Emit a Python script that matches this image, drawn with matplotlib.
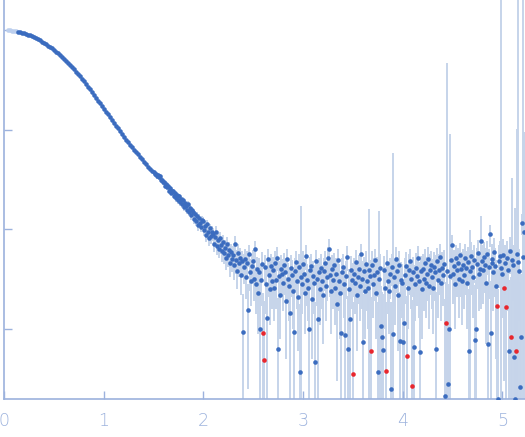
import numpy as np
import matplotlib
matplotlib.use("Agg")
import matplotlib.pyplot as plt

# scattering curve, q in 1/nm, intensity arbitrary units (log axis)

# low q, smooth part of the curve
q_low = [0.04, 0.06, 0.08, 0.10, 0.12, 0.14, 0.16, 0.18, 0.20,
         0.22, 0.24, 0.26, 0.28, 0.30, 0.32, 0.34, 0.36, 0.38, 0.40,
         0.42, 0.44, 0.46, 0.48, 0.50, 0.52, 0.54, 0.56, 0.58, 0.60,
         0.62, 0.64, 0.66, 0.68, 0.70, 0.72, 0.74, 0.76, 0.78, 0.80,
         0.82, 0.84, 0.86, 0.88, 0.90, 0.92, 0.94, 0.96, 0.98, 1.00,
         1.02, 1.04, 1.06, 1.08, 1.10, 1.12, 1.14, 1.16, 1.18, 1.20,
         1.22, 1.24, 1.26, 1.28, 1.30, 1.32, 1.34, 1.36, 1.38, 1.40,
         1.42, 1.44, 1.46, 1.48]
i_low = [997, 993, 988, 982, 974, 965, 953, 942, 929,
         914, 899, 883, 865, 847, 828, 807, 787, 765, 743,
         721, 698, 676, 653, 629, 606, 582, 560, 536, 513,
         491, 468, 446, 425, 404, 383, 362, 343, 324, 305,
         288, 270, 254, 238, 223, 209, 196, 184, 172, 161,
         151, 142, 133, 125, 117, 110, 103, 96.4, 90.4, 84.7,
         79.4, 74.6, 70.1, 66.5, 63.1, 59.3, 56.5, 52.8, 50.4, 47.1,
         45.2, 42.3, 40.6, 38.1]
q_excluded_max = 0.12  # first points drawn pale

# high q, noisy part (negative values drawn red, as |I|)
q_high = [1.50, 1.51, 1.52, 1.53, 1.54, 1.55, 1.56, 1.57, 1.58, 1.59,
          1.60, 1.61, 1.62, 1.63, 1.64, 1.65, 1.66, 1.67, 1.68, 1.69,
          1.70, 1.71, 1.72, 1.73, 1.74, 1.75, 1.76, 1.77, 1.78, 1.79,
          1.80, 1.81, 1.82, 1.83, 1.84, 1.85, 1.86, 1.87, 1.88, 1.89,
          1.90, 1.91, 1.92, 1.93, 1.94, 1.95, 1.96, 1.97, 1.98, 1.99,
          2.00, 2.01, 2.02, 2.03, 2.04, 2.05, 2.06, 2.07, 2.08, 2.09,
          2.10, 2.11, 2.12, 2.13, 2.14, 2.15, 2.16, 2.17, 2.18, 2.19,
          2.20, 2.21, 2.22, 2.23, 2.24, 2.25, 2.26, 2.27, 2.28, 2.29,
          2.30, 2.31, 2.32, 2.33, 2.34, 2.35, 2.36, 2.37, 2.38, 2.39,
          2.40, 2.41, 2.42, 2.43, 2.44, 2.45, 2.46, 2.47, 2.48, 2.49,
          2.50, 2.51, 2.52, 2.53, 2.54, 2.55, 2.56, 2.57, 2.58, 2.59,
          2.60, 2.61, 2.62, 2.63, 2.64, 2.65, 2.66, 2.67, 2.68, 2.69,
          2.70, 2.71, 2.72, 2.73, 2.74, 2.75, 2.76, 2.77, 2.78, 2.79,
          2.80, 2.81, 2.82, 2.83, 2.84, 2.85, 2.86, 2.87, 2.88, 2.89,
          2.90, 2.91, 2.92, 2.93, 2.94, 2.95, 2.96, 2.97, 2.98, 2.99,
          3.00, 3.01, 3.02, 3.03, 3.04, 3.05, 3.06, 3.07, 3.08, 3.09,
          3.10, 3.11, 3.12, 3.13, 3.14, 3.15, 3.16, 3.17, 3.18, 3.19,
          3.20, 3.21, 3.22, 3.23, 3.24, 3.25, 3.26, 3.27, 3.28, 3.29,
          3.30, 3.31, 3.32, 3.33, 3.34, 3.35, 3.36, 3.37, 3.38, 3.39,
          3.40, 3.41, 3.42, 3.43, 3.44, 3.45, 3.46, 3.47, 3.48, 3.49,
          3.50, 3.51, 3.52, 3.53, 3.54, 3.55, 3.56, 3.57, 3.58, 3.59,
          3.60, 3.61, 3.62, 3.63, 3.64, 3.65, 3.66, 3.67, 3.68, 3.69,
          3.70, 3.71, 3.72, 3.73, 3.74, 3.75, 3.76, 3.77, 3.78, 3.79,
          3.80, 3.81, 3.82, 3.83, 3.84, 3.85, 3.86, 3.87, 3.88, 3.89,
          3.90, 3.91, 3.92, 3.93, 3.94, 3.95, 3.96, 3.97, 3.98, 3.99,
          4.00, 4.01, 4.02, 4.03, 4.04, 4.05, 4.06, 4.07, 4.08, 4.09,
          4.10, 4.11, 4.12, 4.13, 4.14, 4.15, 4.16, 4.17, 4.18, 4.19,
          4.20, 4.21, 4.22, 4.23, 4.24, 4.25, 4.26, 4.27, 4.28, 4.29,
          4.30, 4.31, 4.32, 4.33, 4.34, 4.35, 4.36, 4.37, 4.38, 4.39,
          4.40, 4.41, 4.42, 4.43, 4.44, 4.45, 4.46, 4.47, 4.48, 4.49,
          4.50, 4.51, 4.52, 4.53, 4.54, 4.55, 4.56, 4.57, 4.58, 4.59,
          4.60, 4.61, 4.62, 4.63, 4.64, 4.65, 4.66, 4.67, 4.68, 4.69,
          4.70, 4.71, 4.72, 4.73, 4.74, 4.75, 4.76, 4.77, 4.78, 4.79,
          4.80, 4.81, 4.82, 4.83, 4.84, 4.85, 4.86, 4.87, 4.88, 4.89,
          4.90, 4.91, 4.92, 4.93, 4.94, 4.95, 4.96, 4.97, 4.98, 4.99,
          5.00, 5.01, 5.02, 5.03, 5.04, 5.05, 5.06, 5.07, 5.08, 5.09,
          5.10, 5.11, 5.12, 5.13, 5.14, 5.15, 5.16, 5.17, 5.18, 5.19,
          5.20, 5.21, 5.22]
i_high = [37.2, 35.5, 36.3, 33.9, 34.7, 33.1, 33.9, 30.9, 31.6, 29.5,
          29.5, 27.5, 28.8, 26.3, 26.9, 27.5, 24.5, 25.7, 23.4, 24.5,
          24.0, 21.4, 22.9, 20.4, 21.9, 19.5, 21.4, 18.6, 20.0, 17.8,
          19.5, 16.6, 18.2, 17.0, 15.5, 17.8, 14.8, 16.2, 13.8, 15.5,
          14.8, 12.6, 14.1, 12.0, 13.5, 11.0, 12.9, 11.7, 10.5, 12.3,
          12.0, 9.8, 10.7, 8.7, 11.2, 9.3, 8.1, 10.2, 8.5, 9.5,
          8.9, 7.2, 8.3, 9.5, 6.8, 7.8, 6.3, 8.1, 6.9, 6.0,
          7.4, 5.8, 6.5, 5.1, 7.1, 5.5, 6.2, 4.6, 5.9, 5.0,
          5.5, 4.4, 7.2, 4.9, 3.8, 5.8, 4.6, 5.1, 3.5, 4.8,
          0.93, 4.2, 5.0, 3.3, 4.6, 1.55, 5.6, 3.7, 3.0, 4.3,
          4.8, 3.2, 6.3, 2.8, 4.0, 2.3, 3.7, 1.0, 3.1, 4.5,
          -0.91, -0.49, 4.2, 2.8, 1.3, 5.0, 3.5, 2.5, 4.3, 3.0,
          3.9, 2.6, 4.6, 3.1, 5.2, 0.63, 3.4, 2.2, 4.0, 3.6,
          2.9, 4.4, 3.7, 1.9, 5.0, 3.2, 2.7, 1.45, 4.1, 3.5,
          2.4, 0.93, 3.8, 4.7, 3.0, 2.1, 4.2, 0.37, 3.3, 2.8,
          4.5, 3.6, 2.3, 5.4, 3.1, 2.6, 1.0, 3.9, 4.3, 2.0,
          3.4, 2.9, 0.47, 4.8, 3.2, 1.26, 3.7, 2.5, 4.1, 3.0,
          2.2, 3.8, 4.6, 2.7, 3.3, 5.1, 6.4, 3.5, 2.4, 4.0,
          3.1, 4.4, 2.6, 3.6, 1.8, 4.9, 3.0, 2.3, 0.91, 3.7,
          4.2, 2.8, 0.87, 3.4, 5.3, 0.63, 2.5, 1.26, 3.9, 3.1,
          -0.35, 3.6, 2.9, 4.7, 2.2, 3.3, 4.0, 2.7, 5.6, 3.2,
          0.74, 3.8, 2.4, 4.5, 3.0, 2.6, 3.9, 3.4, -0.60, 4.4,
          2.8, 3.5, 4.9, 2.3, 3.7, 0.37, 3.2, 4.1, 1.07, 0.83,
          0.62, 3.9, 2.6, -0.38, 4.6, 3.0, 2.4, 3.6, 0.25, 4.2,
          0.89, 3.3, 2.7, 5.0, 3.8, 2.2, 4.4, 0.76, 3.1, 2.9,
          0.74, 1.15, 3.5, 4.3, -0.53, 2.6, 3.9, 4.8, 3.2, -0.27,
          3.7, 0.66, 2.8, 4.1, 3.4, 5.2, 3.0, 0.59, 3.8, 2.5,
          4.0, 3.2, 4.6, 2.9, 3.6, 5.0, 2.7, 3.9, 4.4, 3.3,
          2.6, 4.2, 3.7, 0.63, 4.8, 3.1, 3.9, 5.3, 2.9, 4.1,
          3.5, 4.5, 0.21, -1.14, 3.8, 0.28, 1.0, 3.4, 4.9, 6.9,
          3.6, 4.3, 2.8, 5.1, 3.9, 4.6, 3.2, 5.5, 4.0, 3.0,
          4.4, 3.5, 5.2, 4.1, 2.9, 4.7, 0.60, 3.8, 5.4, 4.2,
          3.3, 4.9, 0.78, 1.0, 4.5, 5.8, 3.6, 4.0, 7.6, 4.8,
          3.9, 5.3, 4.4, 2.9, 5.6, 0.71, 4.2, 8.9, 0.91, 4.6,
          5.0, 3.7, 5.9, 4.3, 2.7, -1.70, 0.20, 4.8, 5.4, 4.1,
          3.6, 5.5, -2.6, 4.6, -1.65, 5.2, 3.9, 0.60, 6.0, -0.83,
          4.9, 4.4, 0.52, 0.20, -0.60, 5.7, 4.7, 3.8, 0.26, 0.83,
          11.5, 5.3, 9.3]
err_high = [1.7, 1.7, 1.6, 1.7, 1.6, 1.6, 1.7, 1.6, 1.6, 1.6,
            1.6, 1.5, 1.6, 1.5, 1.5, 1.6, 1.5, 1.5, 1.5, 1.5,
            1.5, 1.4, 1.5, 1.4, 1.5, 1.4, 1.4, 1.4, 1.4, 1.4,
            1.4, 1.4, 1.3, 1.4, 1.3, 1.4, 1.3, 1.3, 1.3, 1.3,
            1.3, 1.3, 1.3, 1.2, 1.3, 1.3, 1.2, 1.3, 1.2, 1.3,
            1.3, 1.2, 1.3, 1.3, 1.2, 1.3, 1.3, 1.2, 1.3, 1.3,
            1.3, 1.3, 1.2, 1.3, 1.3, 1.3, 1.2, 1.3, 1.3, 1.3,
            1.3, 1.3, 1.3, 1.2, 1.3, 1.3, 1.3, 1.3, 1.2, 1.3,
            1.3, 1.3, 1.4, 1.3, 1.3, 1.3, 1.3, 1.4, 1.3, 1.3,
            1.3, 1.4, 1.3, 1.3, 1.4, 1.3, 1.4, 1.3, 1.3, 1.4,
            1.4, 1.3, 1.4, 1.4, 1.3, 1.4, 1.4, 1.3, 1.4, 1.4,
            1.4, 1.4, 1.3, 1.4, 1.4, 1.4, 1.4, 1.4, 1.3, 1.4,
            1.4, 1.4, 1.4, 1.5, 1.4, 1.4, 1.4, 1.4, 1.5, 1.4,
            1.4, 1.4, 1.5, 1.4, 1.4, 1.4, 1.5, 1.4, 1.4, 1.4,
            1.4, 1.5, 1.4, 1.4, 1.4, 1.5, 1.4, 1.4, 14.0, 1.4,
            1.5, 1.4, 1.4, 1.5, 1.4, 1.4, 1.5, 1.4, 1.4, 1.5,
            1.4, 1.5, 1.4, 1.4, 1.5, 1.4, 1.5, 1.4, 1.5, 1.4,
            1.5, 1.4, 1.5, 1.5, 1.4, 1.5, 1.5, 1.4, 1.5, 1.5,
            1.5, 1.4, 1.5, 1.5, 1.5, 1.4, 1.5, 1.5, 1.5, 1.5,
            1.5, 1.5, 1.5, 1.4, 1.5, 1.5, 1.5, 1.5, 1.5, 1.5,
            1.5, 1.5, 1.5, 1.5, 1.6, 1.5, 1.5, 1.5, 1.5, 1.6,
            1.5, 1.5, 1.6, 1.5, 1.5, 1.6, 12.0, 1.5, 1.5, 1.6,
            1.5, 1.6, 1.5, 1.5, 1.6, 1.5, 12.0, 1.5, 1.6, 1.5,
            1.6, 1.5, 1.6, 1.5, 1.6, 1.6, 1.5, 1.6, 1.6, 1.5,
            57.0, 1.6, 1.6, 1.6, 1.5, 1.6, 1.6, 1.6, 1.6, 1.6,
            1.6, 1.6, 1.7, 1.6, 1.6, 1.6, 1.7, 1.6, 1.6, 1.7,
            1.6, 1.7, 1.6, 1.7, 1.7, 1.6, 1.7, 1.7, 1.6, 1.7,
            1.7, 1.7, 1.7, 1.6, 1.7, 1.7, 1.7, 1.7, 1.7, 1.7,
            1.7, 1.7, 1.8, 1.7, 1.7, 1.8, 1.7, 1.8, 1.7, 1.8,
            1.8, 1.7, 1.8, 1.8, 465.0, 1.8, 1.8, 88.0, 1.8, 1.8,
            1.8, 1.9, 1.8, 1.9, 1.8, 1.9, 1.9, 1.8, 1.9, 1.9,
            1.9, 1.9, 2.0, 1.9, 1.9, 2.0, 1.9, 6.0, 2.0, 2.0,
            2.0, 2.0, 2.0, 2.1, 2.0, 2.0, 2.1, 2.0, 6.0, 2.1,
            2.1, 2.1, 2.1, 2.2, 2.1, 2.1, 2.2, 2.2, 2.1, 2.2,
            2.2, 2.2, 2.3, 2.2, 2.2, 2.3, 2.3, 2.2, 2.3, 3000.0,
            2.3, 2.4, 2.3, 2.4, 2.4, 2.4, 2.4, 2.5, 2.4, 2.5,
            28.0, 2.5, 2.6, 16.0, 2.6, 95.0, 3000.0, 2.6, 2.7, 2.7,
            2.8, 3000.0, 85.0]

dot_color = "#3b6cbf"
pale_color = "#bccfee"
bar_color = "#c6d4ea"
neg_color = "#e8262d"
axis_color = "#9cb2dd"

q_low = np.array(q_low)
i_low = np.array(i_low)
q_high = np.array(q_high)
i_high = np.array(i_high)
err_high = np.array(err_high)

y_min, y_max = 10 ** -0.703, 10 ** 3.301

fig = plt.figure(figsize=(5.25, 4.37), dpi=100)
ax = fig.add_axes([4 / 525, 38 / 437, 521 / 525, 399 / 437])
ax.set_yscale("log")

# error bars (lower ends that go below zero run to the bottom of the axes)
mag = np.abs(i_high)
lo = mag - err_high
lo = np.where(lo > 0, lo, y_min * 0.5)
hi = mag + err_high
ax.vlines(q_high, lo, hi, color=bar_color, lw=1.4, zorder=1)

pale = q_low <= q_excluded_max
ax.plot(q_low[pale], i_low[pale], "o", ms=3.3, mec="none", color=pale_color, zorder=2)
ax.plot(q_low[~pale], i_low[~pale], "o", ms=3.3, mec="none", color=dot_color, zorder=3)
pos = i_high > 0
ax.plot(q_high[pos], i_high[pos], "o", ms=3.3, mec="none", color=dot_color, zorder=3)
ax.plot(q_high[~pos], -i_high[~pos], "o", ms=3.3, mec="none", color=neg_color, zorder=4)

ax.set_xlim(0, 5.226)
ax.set_ylim(y_min, y_max)

ax.set_xticks([0, 1, 2, 3, 4, 5])
ax.set_yticks([1, 10, 100, 1000])
ax.yaxis.set_minor_locator(matplotlib.ticker.NullLocator())
ax.set_yticklabels([])
ax.tick_params(axis="both", direction="in", length=5.5, width=1, color=axis_color)
ax.tick_params(axis="x", labelsize=12.5, labelcolor=axis_color, pad=9)
for lab in ax.get_xticklabels():
    lab.set_fontfamily("DejaVu Sans")
    lab.set_fontweight("light")

for side in ["top", "right"]:
    ax.spines[side].set_visible(False)
for side in ["left", "bottom"]:
    ax.spines[side].set_color(axis_color)
    ax.spines[side].set_linewidth(1.2)

fig.savefig("out.png", dpi=100)
